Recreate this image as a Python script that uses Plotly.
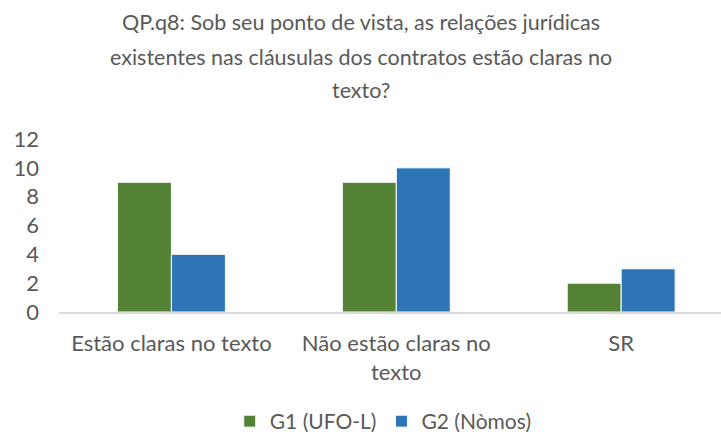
import plotly.graph_objects as go

categories = ["Estão claras no texto", "Não estão claras no<br>texto", "SR"]
g1_values = [9, 9, 2]
g2_values = [4, 10, 3]
y_ticks = [0, 2, 4, 6, 8, 10, 12]
title_lines = [
    "QP.q8: Sob seu ponto de vista, as relações jurídicas",
    "existentes nas cláusulas dos contratos estão claras no",
    "texto?",
]

FONT = "Lato"
TEXT = "#595959"
W, H = 721, 434
plot_left, plot_top, plot_bottom = 58.5, 139, 312
span = plot_bottom - plot_top

fig = go.Figure()
fig.add_trace(go.Bar(
    name="G1 (UFO-L)", x=categories, y=g1_values,
    marker=dict(color="#548235", line=dict(color="white", width=1)),
))
fig.add_trace(go.Bar(
    name="G2 (Nòmos)", x=categories, y=g2_values,
    marker=dict(color="#2E75B6", line=dict(color="white", width=1)),
))

# three-line title, one annotation per line
title_y = [22, 57, 90]
for line, yp in zip(title_lines, title_y):
    fig.add_annotation(
        text=line, xref="paper", yref="paper",
        x=(361 - plot_left) / (W - plot_left), y=(plot_bottom - yp) / span,
        showarrow=False, font=dict(family=FONT, size=21.5, color=TEXT),
        xanchor="center", yanchor="middle",
    )

fig.update_layout(
    width=W, height=H,
    margin=dict(l=plot_left, r=0, t=plot_top, b=H - plot_bottom, autoexpand=False),
    paper_bgcolor="white", plot_bgcolor="white",
    barmode="group", bargap=0.52, bargroupgap=0,
    font=dict(family=FONT, size=21, color=TEXT),
    showlegend=True,
    legend=dict(
        orientation="h", x=(383 - plot_left) / (W - plot_left), xanchor="center",
        y=(plot_bottom - 442) / span, yanchor="bottom",
        font=dict(family=FONT, size=21, color=TEXT),
        itemwidth=30, traceorder="normal",
    ),
    xaxis=dict(
        range=[-0.5, 2.444], showgrid=False, zeroline=False,
        showline=True, linecolor="#d9d9d9", linewidth=1.5,
        ticks="", ticklabelstandoff=11,
        tickfont=dict(family=FONT, size=22, color=TEXT),
    ),
    yaxis=dict(
        range=[0, 12], tickvals=y_ticks, showgrid=False, zeroline=False,
        showline=False, ticks="", ticklabelstandoff=19,
        tickfont=dict(family=FONT, size=22, color=TEXT),
    ),
)

fig.write_html("out.html")
